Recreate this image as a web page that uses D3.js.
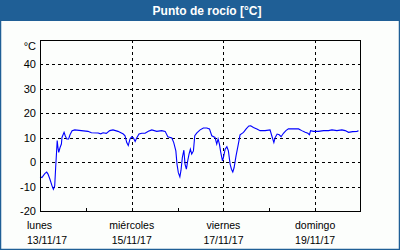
<!DOCTYPE html>
<html>
<head>
<meta charset="utf-8">
<script src="https://cdn.jsdelivr.net/npm/d3@7"></script>
<style>
  body { margin: 0; background: #fff; }
  text { font-family: "Liberation Sans", Arial, sans-serif; }
</style>
</head>
<body>
<div id="canvas"></div>
<script>
// hours since 13/11/17 00:00
const hours = [0, 1, 2.5, 3.5, 4.2, 5.2, 6.3, 7, 7.7, 8.2, 8.7, 9, 9.4, 9.8, 10.5, 11.2, 11.5, 12.6, 13.2, 14, 15, 15.7, 16.8, 18.2,
	21.6, 25.1, 26.9, 30.4, 31.8, 33, 34.7, 36.5, 38.2, 40.8, 43.6, 44.5, 45.4, 46.2, 47.1, 48, 48.9, 49.8, 50.6, 51.8, 53.3,
	55, 56.7, 58.5, 61.1, 63.7, 65.5, 66.9, 69, 70, 71.1, 71.7, 72.4, 73.2, 73.8, 74.5, 75.3, 75.9, 76.6, 77.3, 78, 78.7, 79.4,
	80.3, 81, 82.1, 83.8, 85.5, 87.3, 88.7, 89.9, 91.6, 92.5, 93.2, 93.9, 94.6, 95.5, 96, 96.9, 97.8, 98.6, 99.5, 100.2, 100.9,
	101.6, 102.6, 103.8, 104.7, 106.5, 107.9, 109.3, 110.3, 111.7, 113.5, 115.2, 117.8, 120.4, 121.3, 122.4, 123.1, 124.1,
	125.2, 126.2, 127.4, 128.7, 130, 132.7, 135.3, 137, 138.8, 140.2, 141, 141.6, 143.1, 145.7, 148.4, 151, 152.8, 155.4,
	158, 159.7, 161.5, 163.6, 165.9, 166.7];
const dewPoint = [-6, -6.3, -4.7, -4.1, -4.9, -7, -9.7, -11.1, -9.7, -2.2, 4.6, 8.8, 6, 4, 6, 7.4, 10.1, 12.2, 10.8, 9.5, 9.5, 11.2, 12.9, 13.2,
	12.9, 12.6, 12, 11.9, 11.6, 12, 11.8, 12.9, 13.2, 12.6, 11.5, 10.8, 8, 6.8, 9.5, 10.4, 9.9, 8.5, 9.9, 11.5, 11.8,
	11.8, 12.6, 13.2, 12.6, 12.9, 12.6, 10.4, 9.9, 8, 4.6, -0.8, -4.3, -6, -3.3, 1.9, 4.9, -0.8, -2.9, 0.5, 3.3, 5.3, 3.3,
	4.6, 10.8, 12, 13.2, 14, 14, 13.6, 10.8, 10.1, 7.4, 9.5, 7.4, 4, 0.5, 1.9, 5.3, 6.3, 4.6, -0.8, -2.9, -4,
	-2.2, 2.6, 7.4, 11.2, 12.2, 13.6, 14.8, 14.9, 14.2, 13.6, 12.9, 12.9, 13.2, 10.8, 8, 10.1, 11.5,
	11.2, 10.4, 11.8, 12.9, 13.6, 13.6, 13.6, 12.9, 12.2, 11.8, 11.2, 12.9, 12.6, 12.6, 12.9, 12.9, 13.2, 12.9,
	13.2, 12.9, 12.2, 12.5, 12.6, 12.9];
const yTicks = [-20, -10, 0, 10, 20, 30, 40];
const dayNames = ["lunes", "miércoles", "viernes", "domingo"];
const dayDates = ["13/11/17", "15/11/17", "17/11/17", "19/11/17"];
const title = "Punto de rocío [°C]";

const W = 400, H = 250;
const blue = "#1f5f96";
const m = {left: 40, right: 361, top: 40, bottom: 211};

const svg = d3.select("#canvas").append("svg").attr("width", W).attr("height", H);

// frame + title bar
svg.append("rect").attr("x", 0.5).attr("y", 0.5).attr("width", W - 1).attr("height", H - 1)
	.attr("fill", "#fcfefc").attr("stroke", blue).attr("stroke-width", 1.5);
svg.append("rect").attr("x", 0).attr("y", 0).attr("width", W).attr("height", 21).attr("fill", blue);
svg.append("text").attr("x", 207).attr("y", 15).attr("text-anchor", "middle")
	.attr("fill", "#fff").attr("font-weight", "bold").attr("font-size", "12px").text(title);

const t0 = new Date(2017, 10, 13);
const times = hours.map(h => new Date(t0.getTime() + h * 3600e3));
const x = d3.scaleTime().domain([t0, new Date(2017, 10, 20)]).range([m.left, m.right]);
const y = d3.scaleLinear().domain([-20, 50]).range([m.bottom, m.top]);

const dash = "3,3";
const g = svg.append("g");

// horizontal gridlines
g.selectAll("line.hg").data(yTicks.filter(v => v > -20)).join("line")
	.attr("x1", m.left).attr("x2", m.right)
	.attr("y1", d => Math.round(y(d)) + 0.5).attr("y2", d => Math.round(y(d)) + 0.5)
	.attr("stroke", "#000").attr("stroke-dasharray", dash);

// vertical gridlines at major days
const majorDays = [2, 4, 6].map(d => d3.timeDay.offset(t0, d));
g.selectAll("line.vg").data(majorDays).join("line")
	.attr("x1", d => Math.round(x(d)) + 0.5).attr("x2", d => Math.round(x(d)) + 0.5)
	.attr("y1", m.top).attr("y2", m.bottom)
	.attr("stroke", "#000").attr("stroke-dasharray", dash);

// minor ticks
const minorDays = [1, 3, 5].map(d => d3.timeDay.offset(t0, d));
g.selectAll("line.mt").data(minorDays).join("line")
	.attr("x1", d => Math.round(x(d)) + 0.5).attr("x2", d => Math.round(x(d)) + 0.5)
	.attr("y1", m.bottom - 3).attr("y2", m.bottom)
	.attr("stroke", "#000");

// data line
const line = d3.line().x((d, i) => x(times[i])).y(d => y(d));
svg.append("path").datum(dewPoint).attr("d", line)
	.attr("fill", "none").attr("stroke", "#0000ff").attr("stroke-width", 1.1);

// plot box
svg.append("rect").attr("x", m.left + 0.5).attr("y", m.top + 0.5)
	.attr("width", m.right - m.left - 1).attr("height", m.bottom - m.top)
	.attr("fill", "none").attr("stroke", "#000");

// y labels
svg.selectAll("text.yl").data(yTicks).join("text")
	.attr("x", 36).attr("y", d => y(d) + 4).attr("text-anchor", "end")
	.attr("font-size", "11px").attr("fill", "#000").text(d => d);
svg.append("text").attr("x", 36).attr("y", y(50) + 10).attr("text-anchor", "end")
	.attr("font-size", "11px").text("°C");

// x labels
const labDays = [0, 2, 4, 6].map(d => d3.timeDay.offset(t0, d));
labDays.forEach((d, i) => {
	const first = i === 0;
	const lx = first ? 27 : x(d);
	const anchor = first ? "start" : "middle";
	svg.append("text").attr("x", lx).attr("y", 229).attr("text-anchor", anchor)
		.attr("font-size", "10.5px").text(dayNames[i]);
	svg.append("text").attr("x", lx).attr("y", 244).attr("text-anchor", anchor)
		.attr("font-size", "10.5px").text(dayDates[i]);
});
</script>
</body>
</html>
